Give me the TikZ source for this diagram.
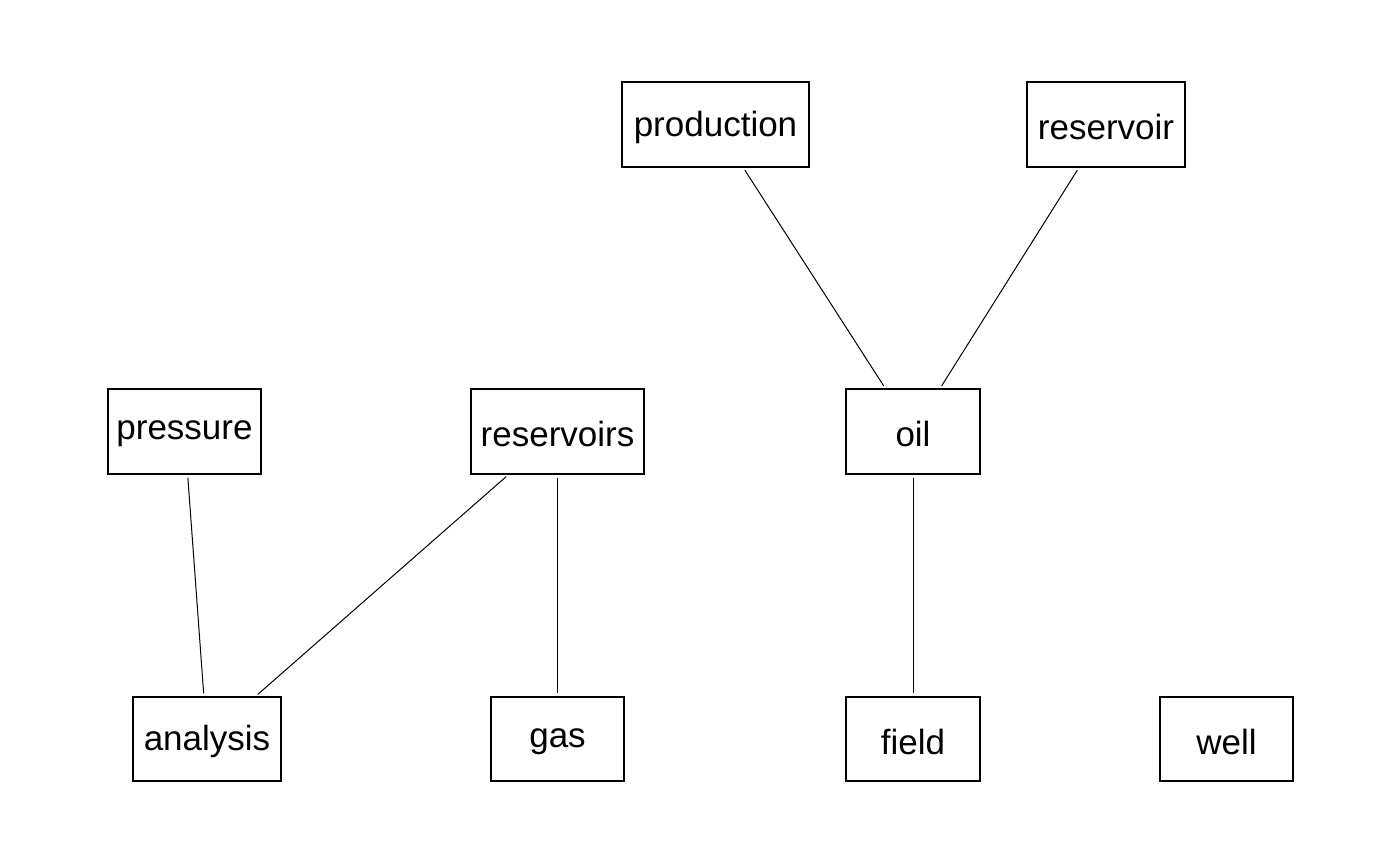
\documentclass[tikz,border=0pt]{standalone}
\usepackage{fontspec}
\setmainfont{Liberation Sans}
\newcommand{\lowtext}[1]{\raisebox{-2.5pt}[\height][\depth]{#1}}
\begin{document}
\begin{tikzpicture}[x=1pt,y=-1pt,
  box/.style={draw,line width=1.2pt,minimum height=85pt,inner sep=0pt,font=\fontsize{35}{40}\selectfont},
  edge/.style={line width=1pt,shorten <=3pt,shorten >=3pt}]
\useasboundingbox (0,0) rectangle (1400,865);
\node[box,minimum width=187pt] (production) at (715.5,124.5) {\lowtext{production}};
\node[box,minimum width=158pt] (reservoir) at (1106,124.5) {\lowtext{reservoir}};
\node[box,minimum width=153pt] (pressure) at (184.5,431.5) {\lowtext{pressure}};
\node[box,minimum width=173pt] (reservoirs) at (557.5,431.5) {\lowtext{reservoirs}};
\node[box,minimum width=134pt] (oil) at (913,431.5) {\lowtext{oil}};
\node[box,minimum width=148pt,minimum height=84pt] (analysis) at (207,739) {\lowtext{analysis}};
\node[box,minimum width=133pt,minimum height=84pt] (gas) at (557.5,739) {\lowtext{gas}};
\node[box,minimum width=134pt,minimum height=84pt] (field) at (913,739) {\lowtext{field}};
\node[box,minimum width=133pt,minimum height=84pt] (well) at (1226.5,739) {\lowtext{well}};
\draw[edge] (production) -- (oil);
\draw[edge] (reservoir) -- (oil);
\draw[edge] (pressure) -- (analysis);
\draw[edge] (reservoirs) -- (analysis);
\draw[edge] (reservoirs) -- (gas);
\draw[edge] (oil) -- (field);
\end{tikzpicture}
\end{document}
